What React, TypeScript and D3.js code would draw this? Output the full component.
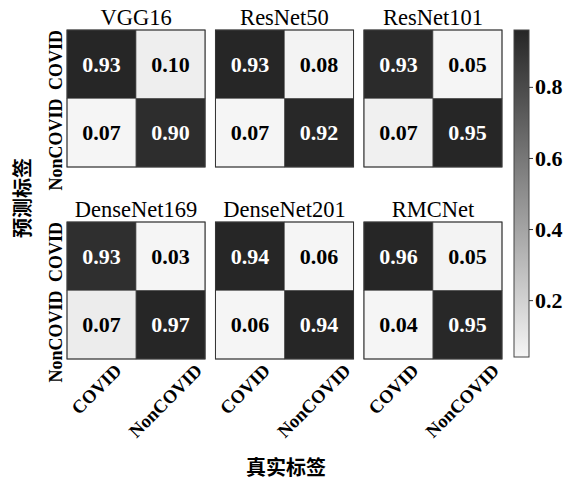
import React, { useEffect, useRef } from 'react';
import * as d3 from 'd3';

// confusion matrices, row = predicted label, column = true label
const models = ['VGG16', 'ResNet50', 'ResNet101', 'DenseNet169', 'DenseNet201', 'RMCNet'];
const classes = ['COVID', 'NonCOVID'];
const vgg16 = [0.93, 0.10, 0.07, 0.90];
const resnet50 = [0.93, 0.08, 0.07, 0.92];
const resnet101 = [0.93, 0.05, 0.07, 0.95];
const densenet169 = [0.93, 0.03, 0.07, 0.97];
const densenet201 = [0.94, 0.06, 0.06, 0.94];
const rmcnet = [0.96, 0.05, 0.04, 0.95];
const matrices = [vgg16, resnet50, resnet101, densenet169, densenet201, rmcnet];
const colorbarTicks = [0.2, 0.4, 0.6, 0.8];
const xLabel = '真实标签';
const yLabel = '预测标签';

const W = 569;
const H = 480;
const serif = '"Liberation Serif", "Times New Roman", serif';
const cjk = '"Noto Sans CJK SC", sans-serif';
const LIGHT = '#f5f5f5';
const DARK = '#262626';

const App = () => {
  const ref = useRef<SVGSVGElement>(null);

  useEffect(() => {
    const svg = d3.select(ref.current);
    svg.selectAll('*').remove();

    const panelX = d3.scaleBand<number>().domain([0, 1, 2]).range([67, 502]).paddingInner(0.07);
    const panelY = d3.scaleBand<number>().domain([0, 1]).range([30, 359]).paddingInner(55 / 192);
    const cellX = d3.scaleBand<string>().domain(classes).range([0, panelX.bandwidth()]);
    const cellY = d3.scaleBand<string>().domain(classes).range([0, panelY.bandwidth()]);

    models.forEach((name, i) => {
      const col = i % 3;
      const row = Math.floor(i / 3);
      const x0 = panelX(col) as number;
      const y0 = panelY(row) as number;
      const g = svg.append('g').attr('transform', `translate(${x0},${y0})`);
      const values = matrices[i];
      // each heatmap is scaled on its own min / max
      const color = d3.scaleLinear<string>()
        .domain(d3.extent(values) as [number, number])
        .range([LIGHT, DARK]);

      const cells = classes.flatMap((pred, r) =>
        classes.map((truth, c) => ({ pred, truth, v: values[r * 2 + c] })));

      g.selectAll('rect.cell')
        .data(cells)
        .enter().append('rect')
        .attr('class', 'cell')
        .attr('x', (d) => cellX(d.truth) as number)
        .attr('y', (d) => cellY(d.pred) as number)
        .attr('width', cellX.bandwidth())
        .attr('height', cellY.bandwidth())
        .attr('fill', (d) => color(d.v))
        .attr('stroke', '#555')
        .attr('stroke-width', 0.6);

      g.selectAll('text.val')
        .data(cells)
        .enter().append('text')
        .attr('class', 'val')
        .attr('x', (d) => (cellX(d.truth) as number) + cellX.bandwidth() / 2)
        .attr('y', (d) => (cellY(d.pred) as number) + cellY.bandwidth() / 2)
        .attr('dy', '0.34em')
        .attr('text-anchor', 'middle')
        .attr('font-family', serif)
        .attr('font-weight', 'bold')
        .attr('font-size', 22)
        .attr('fill', (d) => (d.v > 0.5 ? '#fff' : '#000'))
        .text((d) => d.v.toFixed(2));

      g.append('rect')
        .attr('width', panelX.bandwidth())
        .attr('height', panelY.bandwidth())
        .attr('fill', 'none')
        .attr('stroke', '#333')
        .attr('stroke-width', 1);

      g.append('text')
        .attr('x', panelX.bandwidth() / 2)
        .attr('y', -5)
        .attr('text-anchor', 'middle')
        .attr('font-family', serif)
        .attr('font-size', 22.5)
        .attr('fill', '#000')
        .text(name);

      // y tick labels on the left column
      if (col === 0) {
        classes.forEach((c) => {
          g.append('text')
            .attr('transform', `translate(-5,${cellY(c)}) rotate(-90)`)
            .attr('text-anchor', 'end')
            .attr('font-family', serif)
            .attr('font-weight', 'bold')
            .attr('font-size', 18)
            .attr('fill', '#000')
            .text(c);
        });
      }

      // x tick labels on the bottom row, rotated 45 deg, box top below the panel
      if (row === 1) {
        classes.forEach((c) => {
          const t = g.append('text')
            .attr('text-anchor', 'middle')
            .attr('dy', '0.33em')
            .attr('font-family', serif)
            .attr('font-weight', 'bold')
            .attr('font-size', 18.5)
            .attr('fill', '#000')
            .text(c);
          const len = (t.node() as SVGTextElement).getComputedTextLength();
          const half = (len + 13) / (2 * Math.SQRT2);
          const cx = (cellX(c) as number) + cellX.bandwidth() / 2 - 5;
          const cy = panelY.bandwidth() + 4 + half;
          t.attr('transform', `translate(${cx},${cy}) rotate(-45)`);
        });
      }
    });

    // colorbar belongs to the last heatmap drawn (RMCNet)
    const last = matrices[matrices.length - 1];
    const [cmin, cmax] = d3.extent(last) as [number, number];
    const cbColor = d3.scaleLinear<string>().domain([cmin, cmax]).range([LIGHT, DARK]);
    const cbX = 514;
    const cbW = 15;
    const cbScale = d3.scaleLinear().domain([cmin, cmax]).range([357, 30]);
    const grad = svg.append('defs').append('linearGradient')
      .attr('id', 'cbgrad')
      .attr('x1', 0).attr('y1', 1).attr('x2', 0).attr('y2', 0);
    d3.range(0, 1.0001, 0.1).forEach((t) => {
      grad.append('stop')
        .attr('offset', t)
        .attr('stop-color', cbColor(cmin + t * (cmax - cmin)));
    });
    svg.append('rect')
      .attr('x', cbX)
      .attr('y', cbScale(cmax))
      .attr('width', cbW)
      .attr('height', cbScale(cmin) - cbScale(cmax))
      .attr('fill', 'url(#cbgrad)')
      .attr('stroke', '#444')
      .attr('stroke-width', 1);

    const axis = svg.append('g')
      .attr('transform', `translate(${cbX + cbW},0)`)
      .call(d3.axisRight(cbScale).tickValues(colorbarTicks).tickSize(4).tickPadding(2).tickFormat(d3.format('.1f')));
    axis.select('.domain').remove();
    axis.selectAll('line').attr('stroke', '#333');
    axis.selectAll('text')
      .attr('font-family', serif)
      .attr('font-weight', 'bold')
      .attr('font-size', 22)
      .attr('fill', '#000');

    // axis titles
    svg.append('text')
      .attr('transform', 'translate(23,198) rotate(-90)')
      .attr('text-anchor', 'middle')
      .attr('dy', '0.35em')
      .attr('font-family', cjk)
      .attr('font-weight', 'bold')
      .attr('font-size', 20)
      .attr('fill', '#000')
      .text(yLabel);

    svg.append('text')
      .attr('x', 286)
      .attr('y', 468)
      .attr('text-anchor', 'middle')
      .attr('dy', '0.35em')
      .attr('font-family', cjk)
      .attr('font-weight', 'bold')
      .attr('font-size', 20)
      .attr('fill', '#000')
      .text(xLabel);
  }, []);

  return (
    <svg
      ref={ref}
      width={W}
      height={H}
      style={{ position: 'absolute', left: 0, top: 0, background: '#fff' }}
    />
  );
};

export default App;
